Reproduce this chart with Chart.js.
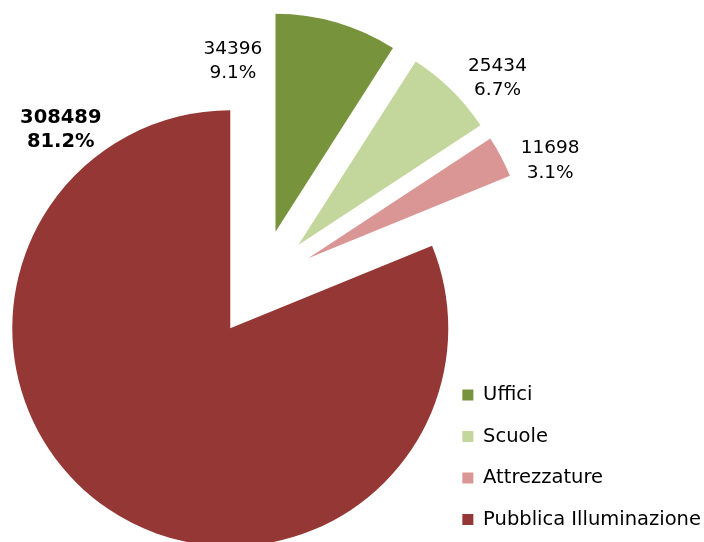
<!DOCTYPE html>
<html>
<head>
<meta charset="utf-8">
<script src="https://cdn.jsdelivr.net/npm/chart.js@4"></script>
<style>
  html, body { margin: 0; padding: 0; background: #fff; }
  #consumiChart { display: block; }
</style>
</head>
<body>
<canvas id="consumiChart" width="704" height="542"></canvas>
<script>
// Consumi per tipologia di utenza
const categorie = ['Uffici', 'Scuole', 'Attrezzature', 'Pubblica Illuminazione'];
const consumi = [34396, 25434, 11698, 308489];
const colori = ['#77933C', '#C3D69B', '#D99694', '#953735'];

// posizione delle etichette rispetto alla punta della fetta (gradi da ore 12, distanza px)
const etichettaAngolo = [-14, 50, 68, -40.5];
const etichettaDist = [176, 260, 261, 261];
const grassetto = [false, false, false, true];

const raggio = 218;
const stacco = 54; // distanza di esplosione delle fette

const totale = consumi.reduce((a, b) => a + b, 0);

// Sposta ogni fetta verso l'esterno lungo la sua bisettrice
// (l'opzione offset di Chart.js restringe anche l'angolo della fetta)
const esplodi = {
    id: 'esplodi',
    afterDatasetUpdate(chart, args) {
        args.meta.data.forEach(arc => {
            const mezzo = (arc.startAngle + arc.endAngle) / 2;
            arc.x += Math.cos(mezzo) * stacco;
            arc.y += Math.sin(mezzo) * stacco;
        });
    }
};

// Etichette valore + percentuale
const etichette = {
    id: 'etichette',
    afterDatasetsDraw(chart) {
        const ctx = chart.ctx;
        const meta = chart.getDatasetMeta(0);
        ctx.save();
        ctx.fillStyle = '#000';
        ctx.textAlign = 'center';
        ctx.textBaseline = 'middle';
        meta.data.forEach((arc, i) => {
            const a = etichettaAngolo[i] * Math.PI / 180;
            const x = arc.x + Math.sin(a) * etichettaDist[i];
            const y = arc.y - Math.cos(a) * etichettaDist[i];
            ctx.font = (grassetto[i] ? 'bold 19.5px' : '18.5px') + ' "DejaVu Sans", Verdana, sans-serif';
            ctx.fillText(String(consumi[i]), x, y - 12.2);
            ctx.fillText((consumi[i] / totale * 100).toFixed(1) + '%', x, y + 12.2);
        });
        ctx.restore();
    }
};

const data = {
    labels: categorie,
    datasets: [{
        data: consumi,
        backgroundColor: colori,
        borderWidth: 0,
        clip: false
    }]
};

const config = {
    type: 'pie',
    data: data,
    options: {
        responsive: false,
        animation: false,
        radius: raggio,
        layout: {
            padding: { left: 80.4, top: 25, right: -6.95, bottom: -9.25 }
        },
        plugins: {
            tooltip: { enabled: false },
            legend: {
                position: 'right',
                align: 'end',
                labels: {
                    boxWidth: 11,
                    boxHeight: 11,
                    padding: 22,
                    color: '#000',
                    font: { family: '"DejaVu Sans", Verdana, sans-serif', size: 19.5 }
                }
            }
        }
    },
    plugins: [esplodi, etichette]
};

const consumiChart = new Chart(document.getElementById('consumiChart'), config);
</script>
</body>
</html>
